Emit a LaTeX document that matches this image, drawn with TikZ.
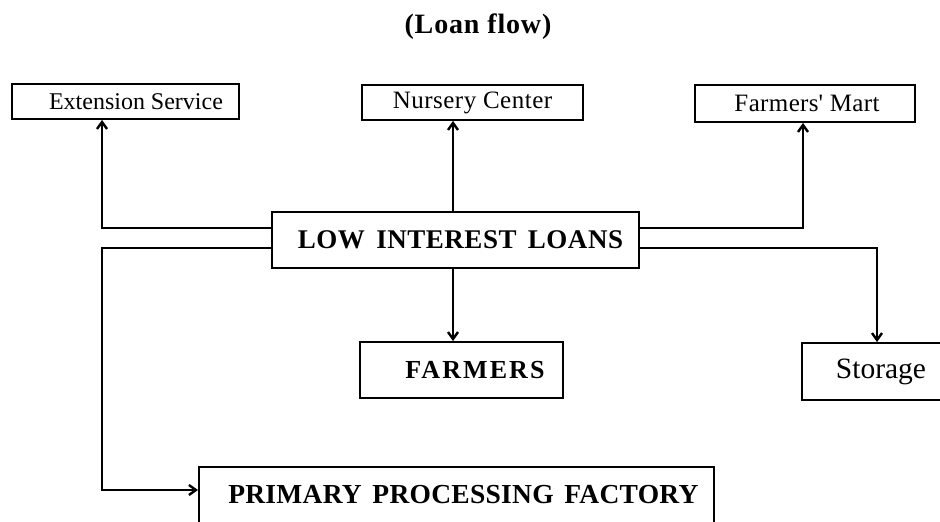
\documentclass[tikz,border=0pt]{standalone}
\usepackage{fontspec}
\setmainfont{Liberation Serif}
\usetikzlibrary{arrows.meta}
\tikzset{
  box/.style={draw=black, line width=1.8pt, rectangle, inner sep=0pt},
  conn/.style={draw=black, line width=2.4pt, -{Straight Barb[length=7pt,width=10pt]}},
}
\begin{document}
\begin{tikzpicture}[x=1pt,y=-1pt]
\clip (0,0) rectangle (940,522);
\fill[white] (0,0) rectangle (940,522);

% title
\node[inner sep=0pt] (title) at (478,27)
  {\fontsize{28}{31}\selectfont\bfseries\addfontfeature{LetterSpace=3}(Loan flow)};

% top boxes
\node[box, minimum width=227pt, minimum height=35pt] (ext) at (125.5,101.5)
  {\hspace*{21pt}\fontsize{24}{27}\selectfont Extension Service};
\node[box, minimum width=221pt, minimum height=35pt] (nur) at (472.5,102.5)
  {\fontsize{25}{28}\selectfont\addfontfeature{LetterSpace=2}Nursery Center};
\node[box, minimum width=220pt, minimum height=37pt] (mart) at (805,103.5)
  {\hspace*{4pt}\fontsize{25}{28}\selectfont\addfontfeature{LetterSpace=1.5}Farmers\textquotesingle\ Mart};

% central box
\node[box, minimum width=367pt, minimum height=56pt] (low) at (455.5,240)
  {\hspace*{10pt}\fontsize{27}{30}\selectfont\bfseries\addfontfeature{LetterSpace=2}LOW\hspace{4pt} INTEREST\hspace{4pt} LOANS};

% lower boxes
\node[box, minimum width=203pt, minimum height=56pt] (farm) at (461.5,370)
  {\hspace*{27pt}\fontsize{26}{29}\selectfont\bfseries\addfontfeature{LetterSpace=8}FARMERS};
\node[box, minimum width=158pt, minimum height=57pt] (stor) at (881,371.5)
  {\fontsize{29.5}{32}\selectfont Storage};
\node[box, anchor=north west, minimum width=515pt, text height=37pt, text depth=50pt] (prim) at (198,466)
  {\hspace*{14pt}\fontsize{27.5}{30}\selectfont\bfseries\addfontfeature{LetterSpace=1}PRIMARY\hspace{3.5pt} PROCESSING\hspace{3.5pt} FACTORY};

% helper coordinates
\coordinate (yA) at (0,228);
\coordinate (yB) at (0,248);
\coordinate (xL) at (102,0);
\coordinate (pj) at (102,490);

% connectors
\draw[conn] (low.west |- yA) -- (xL |- yA) -- (xL |- ext.south);
\draw[conn] ([xshift=-2.5pt]low.north) -- ([xshift=-2.5pt]low.north |- nur.south);
\draw[conn] (low.east |- yA) -| ([xshift=-2pt]mart.south);
\draw[conn] (low.east |- yB) -| ([xshift=-4pt]stor.north);
\draw[conn] ([xshift=-2.5pt]low.south) -- ([xshift=-2.5pt]low.south |- farm.north);
\draw[conn] (low.west |- yB) -- (xL |- yB) -- (pj) -- (prim.west |- pj);
\end{tikzpicture}
\end{document}
